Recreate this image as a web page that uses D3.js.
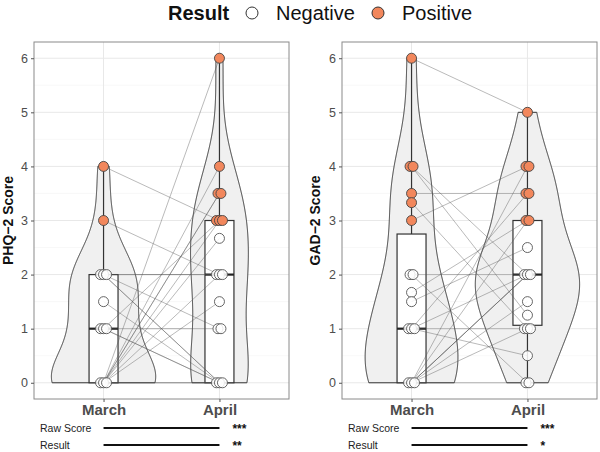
<!DOCTYPE html>
<html>
<head>
<meta charset="utf-8">
<script src="https://cdn.jsdelivr.net/npm/d3@7"></script>
<style>
  html, body { margin: 0; padding: 0; background: #fff; }
  svg { display: block; font-family: "Liberation Sans", Arial, sans-serif; }
</style>
</head>
<body>
<svg id="chart" width="600" height="452"></svg>
<script>
// ---------------- DATA ----------------
const months = ["March", "April"];
const yTicks = [0, 1, 2, 3, 4, 5, 6];
const legendLabels = ["Negative", "Positive"];
const sigRows = ["Raw Score", "Result"];

// PHQ-2 paired scores (one entry per participant)
const phqMarch = [4, 3, 2, 2, 2, 2, 2, 1.5, 1, 1, 1, 1, 0, 0, 0, 0, 0, 0, 0, 0, 0, 0];
const phqApril = [3, 2, 2, 2, 0, 0, 1, 0, 0, 0, 3, 1, 6, 4, 3.5, 3.5, 3, 2.67, 2, 1.5, 0, 0];
const phqStars = ["***", "**"];

// GAD-2 paired scores (one entry per participant)
const gadMarch = [6, 4, 4, 3.5, 3.33, 3, 2, 2, 1.67, 1.5, 1, 1, 1, 1, 0, 0, 0, 0, 0, 0, 0, 0];
const gadApril = [5, 2, 1.25, 3.5, 1, 4, 2, 0, 3, 2.5, 1, 2, 0.5, 3.5, 4, 3, 2, 2, 2, 1.5, 1, 0];
const gadStars = ["***", "*"];

const positiveCut = 3;

// ---------------- DRAW ----------------
const svg = d3.select("#chart");
const POS = "#F2875C", NEG = "#ffffff";

// Legend
const lg = svg.append("g");
lg.append("text").attr("x", 168).attr("y", 20).attr("font-size", 20).attr("font-weight", "bold")
  .attr("fill", "#111").text("Result");
const legX = [252, 378];
legendLabels.forEach((lab, i) => {
  lg.append("circle").attr("cx", legX[i]).attr("cy", 13).attr("r", 6)
    .attr("fill", i === 0 ? NEG : POS).attr("stroke", "#333").attr("stroke-width", 1);
  lg.append("text").attr("x", legX[i] + 24).attr("y", 20).attr("font-size", 20)
    .attr("fill", "#111").text(lab);
});

function kde(values, bw, grid) {
  const n = values.length;
  return grid.map(t => {
    let s = 0;
    for (const v of values) { const u = (t - v) / bw; s += Math.exp(-0.5 * u * u); }
    return s / (n * bw * Math.sqrt(2 * Math.PI));
  });
}
function nrd0(values) {
  const s = [...values].sort(d3.ascending);
  const sd = d3.deviation(s);
  const iqr = d3.quantile(s, 0.75) - d3.quantile(s, 0.25);
  let lo = Math.min(sd, iqr / 1.34);
  if (!(lo > 0)) lo = sd || Math.abs(s[0]) || 1;
  return 0.9 * lo * Math.pow(s.length, -0.2);
}

function panel(opts) {
  const { x0, x1, yTop, yBot, march, april, title, stars, titleX } = opts;
  const g = svg.append("g");
  const x = d3.scalePoint().domain(months).range([x0, x1]).padding(0.6);
  const step = x.step();
  const y = d3.scaleLinear().domain([-0.3, 6.3]).range([yBot, yTop]);

  // background + grid
  g.append("rect").attr("x", x0).attr("y", yTop).attr("width", x1 - x0).attr("height", yBot - yTop)
    .attr("fill", "#fff");
  const minor = d3.range(0.5, 6.5, 1);
  g.selectAll(".minor").data(minor).join("line")
    .attr("x1", x0).attr("x2", x1).attr("y1", d => y(d)).attr("y2", d => y(d))
    .attr("stroke", "#f3f3f3").attr("stroke-width", 0.6);
  g.selectAll(".major").data(yTicks).join("line")
    .attr("x1", x0).attr("x2", x1).attr("y1", d => y(d)).attr("y2", d => y(d))
    .attr("stroke", "#e8e8e8").attr("stroke-width", 1);
  g.selectAll(".vmajor").data(months).join("line")
    .attr("x1", d => x(d)).attr("x2", d => x(d)).attr("y1", yTop).attr("y2", yBot)
    .attr("stroke", "#e8e8e8").attr("stroke-width", 1);

  const sets = [march, april];

  // violins (scale = area: common max density)
  const dens = sets.map(vals => {
    const lo = d3.min(vals), hi = d3.max(vals);
    const bw = nrd0(vals);
    const grid = d3.range(512).map(i => lo + (hi - lo) * i / 511);
    return { grid, d: kde(vals, bw, grid) };
  });
  const maxD = d3.max(dens, o => d3.max(o.d));
  const w = d3.scaleLinear().domain([0, maxD]).range([0, 0.45 * step]);
  dens.forEach((o, i) => {
    const cx = x(months[i]);
    const pts = o.grid.map((t, k) => [cx - w(o.d[k]), y(t)]);
    const back = o.grid.map((t, k) => [cx + w(o.d[k]), y(t)]).reverse();
    g.append("path").attr("d", d3.line()(pts.concat(back)) + "Z")
      .attr("fill", "#f0f0f0").attr("stroke", "#333").attr("stroke-width", 1);
  });

  // boxplots
  const bw2 = 0.125 * step;
  sets.forEach((vals, i) => {
    const s = [...vals].sort(d3.ascending);
    const q1 = d3.quantile(s, 0.25), med = d3.quantile(s, 0.5), q3 = d3.quantile(s, 0.75);
    const iqr = q3 - q1;
    const upper = d3.max(s.filter(v => v <= q3 + 1.5 * iqr));
    const lower = d3.min(s.filter(v => v >= q1 - 1.5 * iqr));
    const cx = x(months[i]);
    g.append("line").attr("x1", cx).attr("x2", cx).attr("y1", y(q3)).attr("y2", y(upper))
      .attr("stroke", "#333").attr("stroke-width", 1.2);
    g.append("line").attr("x1", cx).attr("x2", cx).attr("y1", y(q1)).attr("y2", y(lower))
      .attr("stroke", "#333").attr("stroke-width", 1.2);
    g.append("rect").attr("x", cx - bw2).attr("width", 2 * bw2)
      .attr("y", y(q3)).attr("height", Math.max(0, y(q1) - y(q3)))
      .attr("fill", "#fff").attr("stroke", "#333").attr("stroke-width", 1.2);
    g.append("line").attr("x1", cx - bw2).attr("x2", cx + bw2).attr("y1", y(med)).attr("y2", y(med))
      .attr("stroke", "#222").attr("stroke-width", 2.2);
  });

  // paired lines
  march.forEach((m, k) => {
    g.append("line").attr("x1", x(months[0])).attr("y1", y(m))
      .attr("x2", x(months[1])).attr("y2", y(april[k]))
      .attr("stroke", "#555").attr("stroke-opacity", 0.45).attr("stroke-width", 0.9);
  });

  // points with small deterministic spread for ties
  sets.forEach((vals, i) => {
    const cx = x(months[i]);
    const groups = d3.group(vals, v => v);
    groups.forEach((arr, v) => {
      const n = Math.min(arr.length, 3);
      for (let j = 0; j < n; j++) {
        const off = (j - (n - 1) / 2) * 3;
        g.append("circle").attr("cx", cx + off).attr("cy", y(v)).attr("r", 5)
          .attr("fill", v >= positiveCut ? POS : NEG)
          .attr("fill-opacity", v >= positiveCut ? 1 : 0.85)
          .attr("stroke", v >= positiveCut ? "#444" : "#555").attr("stroke-width", 0.9);
      }
    });
  });

  // border
  g.append("rect").attr("x", x0).attr("y", yTop).attr("width", x1 - x0).attr("height", yBot - yTop)
    .attr("fill", "none").attr("stroke", "#8a8a8a").attr("stroke-width", 1);

  // y axis
  const ya = g.append("g").attr("transform", `translate(${x0},0)`)
    .call(d3.axisLeft(y).tickValues(yTicks).tickFormat(d3.format("d")).tickSize(3).tickPadding(3));
  ya.select(".domain").remove();
  ya.selectAll("line").attr("stroke", "#555");
  ya.selectAll("text").attr("font-size", 12.5).attr("fill", "#4d4d4d")
    .attr("font-family", "Liberation Sans, Arial, sans-serif");

  // x axis
  const xa = g.append("g").attr("transform", `translate(0,${yBot})`)
    .call(d3.axisBottom(x).tickSize(3).tickPadding(2));
  xa.select(".domain").remove();
  xa.selectAll("line").attr("stroke", "#555");
  xa.selectAll("text").attr("font-size", 15).attr("font-weight", "bold").attr("fill", "#4d4d4d")
    .attr("font-family", "Liberation Sans, Arial, sans-serif");

  // y title
  g.append("text").attr("transform", `translate(${titleX},${(yTop + yBot) / 2}) rotate(-90)`)
    .attr("text-anchor", "middle").attr("font-size", 14).attr("font-weight", "bold")
    .attr("fill", "#111").text(title);

  // significance annotations
  const rowsY = [428, 445];
  sigRows.forEach((lab, r) => {
    g.append("text").attr("x", x0 + 6).attr("y", rowsY[r] + 3.5).attr("font-size", 10.5)
      .attr("fill", "#222").text(lab);
    g.append("line").attr("x1", x(months[0])).attr("x2", x(months[1]))
      .attr("y1", rowsY[r]).attr("y2", rowsY[r]).attr("stroke", "#111").attr("stroke-width", 2);
    g.append("text").attr("x", x(months[1]) + 13).attr("y", rowsY[r] + 5).attr("font-size", 12)
      .attr("font-weight", "bold").attr("fill", "#111").text(stars[r]);
  });
}

panel({ x0: 34, x1: 289, yTop: 42, yBot: 399, march: phqMarch, april: phqApril,
        title: "PHQ\u22122 Score", stars: phqStars, titleX: 13 });
panel({ x0: 342, x1: 597, yTop: 42, yBot: 399, march: gadMarch, april: gadApril,
        title: "GAD\u22122 Score", stars: gadStars, titleX: 320 });
</script>
</body>
</html>
